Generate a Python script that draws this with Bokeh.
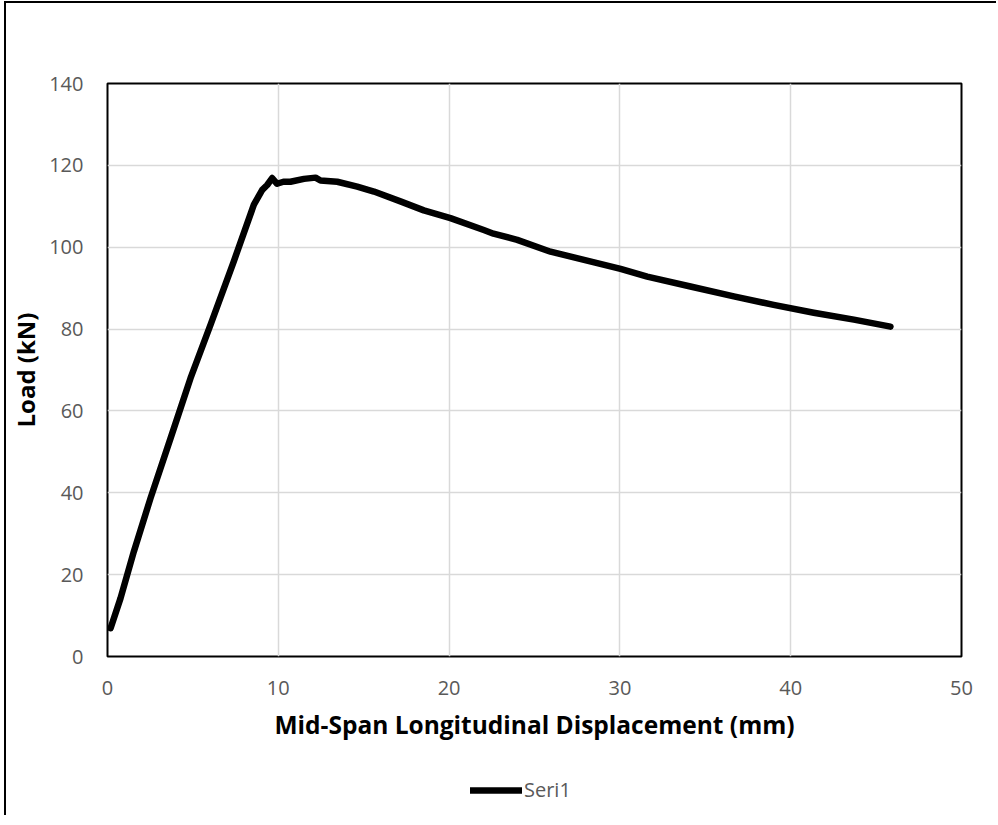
from bokeh.plotting import figure
from bokeh.layouts import column
from bokeh.models import FixedTicker, Legend, LegendItem, Range1d
from bokeh.embed import file_html
from bokeh.resources import INLINE

# Data
disp = [0.18, 0.76, 1.54, 2.52, 3.69, 4.86, 6.03, 7.39, 8.57, 9.06, 9.35, 9.64, 9.93,
        10.3, 10.71, 11.5, 12.18, 12.47, 13.45, 14.62, 15.6, 17.15, 18.52, 20.08,
        22.03, 22.6, 23.99, 25.94, 27.9, 30.04, 31.6, 34.13, 36.67, 39.0, 41.35,
        43.7, 45.84]
load = [6.9, 14.2, 25.6, 38.7, 53.3, 68.0, 81.0, 96.5, 110.4, 114.0, 115.2, 116.9, 115.5,
        116.0, 116.0, 116.7, 117.0, 116.3, 116.0, 114.8, 113.6, 111.2, 109.0, 107.1,
        104.2, 103.3, 101.8, 98.9, 96.9, 94.7, 92.8, 90.4, 88.0, 85.9, 84.0,
        82.3, 80.6]
x_ticks = [0, 10, 20, 30, 40, 50]
y_ticks = [0, 20, 40, 60, 80, 100, 120, 140]
series_name = "Seri1"
x_title = "Mid-Span Longitudinal Displacement (mm)"
y_title = "Load (kN)"

FONT = "Open Sans"
LINE = dict(line_color="black", line_width=6.5, line_cap="round", line_join="round")

p = figure(width=990, height=757, output_backend="svg", toolbar_location=None,
           x_range=Range1d(0, 50), y_range=Range1d(0, 140),
           min_border_left=101, min_border_right=35, min_border_top=80,
           min_border_bottom=104)

r = p.line(disp, load, **LINE)

p.outline_line_color = "black"
p.outline_line_width = 2

for ax, ticks in ((p.xaxis[0], x_ticks), (p.yaxis[0], y_ticks)):
    ax.ticker = FixedTicker(ticks=ticks)
    ax.axis_line_color = None
    ax.major_tick_line_color = None
    ax.minor_tick_line_color = None
    ax.major_label_text_font = FONT
    ax.major_label_text_font_size = "20px"
    ax.major_label_text_color = "#595959"
    ax.axis_label_text_font = FONT
    ax.axis_label_text_font_style = "bold"
    ax.axis_label_text_color = "black"

p.xaxis.axis_label_text_font_size = "24.5px"
p.yaxis.axis_label_text_font_size = "24px"
p.xaxis.axis_label = x_title
p.yaxis.axis_label = y_title
p.xaxis.major_label_standoff = 18
p.yaxis.major_label_standoff = 18
p.xaxis.axis_label_standoff = 10
p.yaxis.axis_label_standoff = 4

p.xgrid.ticker = FixedTicker(ticks=x_ticks)
p.ygrid.ticker = FixedTicker(ticks=y_ticks)
p.grid.grid_line_color = "#d9d9d9"
p.grid.grid_line_width = 1.5

# Legend strip below the chart (its frame is aligned with the chart's frame).
# The series is drawn here outside the visible range, so only the legend shows.
q = figure(width=990, height=55, output_backend="svg", toolbar_location=None,
           x_range=Range1d(0, 50), y_range=Range1d(1000, 1001),
           x_axis_location=None, y_axis_location=None,
           min_border_left=0, min_border_right=0, min_border_top=0,
           min_border_bottom=0)
q.grid.visible = False
q.outline_line_color = None
rq = q.line(disp, load, **LINE)

legend = Legend(items=[LegendItem(label=series_name, renderers=[rq])],
                location=(363, 12), orientation="horizontal",
                border_line_color=None, background_fill_alpha=0,
                label_text_font=FONT, label_text_font_size="20px",
                label_text_color="#595959", glyph_width=52, label_standoff=2,
                padding=0, margin=0, spacing=0)
q.add_layout(legend, "center")

layout = column(p, q, spacing=0)
layout.styles = {"border-left": "2px solid black", "border-top": "2px solid black",
                 "margin-left": "4px", "margin-top": "1px"}

open("out.html", "w").write(file_html(layout, INLINE))
